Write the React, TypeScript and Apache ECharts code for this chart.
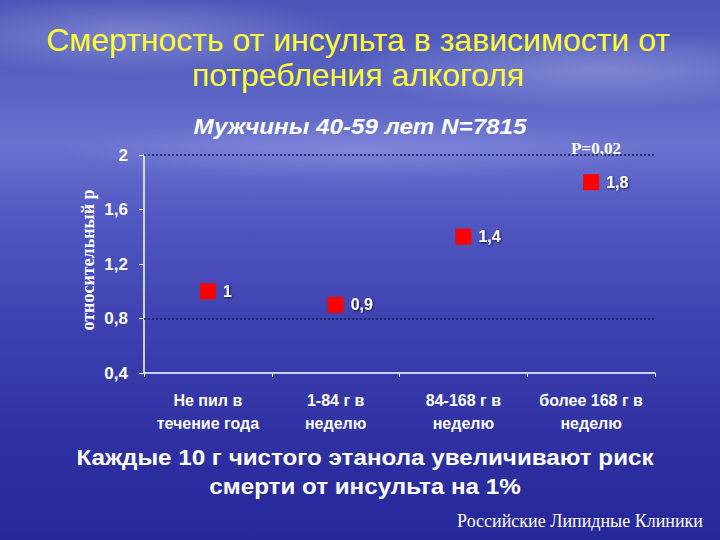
import React, { useEffect, useRef } from "react";
import * as echarts from "echarts";

const categories = ["Не пил в\nтечение года", "1-84 г в\nнеделю", "84-168 г в\nнеделю", "более 168 г в\nнеделю"];
const riskValues = [1, 0.9, 1.4, 1.8];
const refLines = [2, 0.8];
const titleLines = ["Смертность от инсульта в зависимости от", "потребления алкоголя"];
const subtitle = "Мужчины 40-59 лет N=7815";
const yAxisName = "относительный р";
const pValue = "P=0,02";
const footnoteLines = ["Каждые 10 г чистого этанола увеличивают риск", "смерти от инсульта на 1%"];
const credit = "Российские Липидные Клиники";

const fmt = (v: number) => String(Math.round(v * 10) / 10).replace(".", ",");

export default function App() {
  const ref = useRef<HTMLDivElement>(null);
  useEffect(() => {
    if (!ref.current) return;
    const chart = echarts.init(ref.current, null, { renderer: "svg" });
    const white = "#ffffff";
    const sans = "'Liberation Sans', Arial, sans-serif";
    const serif = "'Liberation Serif', 'Times New Roman', serif";
    chart.setOption({
      animation: false,
      backgroundColor: "transparent",
      grid: { left: 144, right: 65, top: 155, bottom: 167, containLabel: false },
      xAxis: {
        type: "category",
        data: categories,
        boundaryGap: true,
        axisLine: { show: true, lineStyle: { color: white, width: 1.5 } },
        axisTick: { show: true, alignWithLabel: false, length: 4, lineStyle: { color: white } },
        axisLabel: {
          interval: 0,
          hideOverlap: false,
          color: white,
          fontWeight: "bold",
          fontSize: 16,
          fontFamily: sans,
          lineHeight: 23,
          margin: 16,
        },
        splitLine: { show: false },
      },
      yAxis: {
        type: "value",
        min: 0.4,
        max: 2,
        interval: 0.4,
        axisLine: { show: true, lineStyle: { color: white, width: 1.5 } },
        axisTick: { show: true, length: 5, lineStyle: { color: white } },
        axisLabel: { color: white, fontWeight: "bold", fontSize: 17, fontFamily: sans, margin: 16, formatter: (v: number) => fmt(v) },
        splitLine: { show: false },
      },
      series: [
        {
          type: "scatter",
          data: riskValues,
          symbol: "rect",
          symbolSize: 16,
          itemStyle: { color: "#ff0000", opacity: 1 },
          label: {
            show: true,
            position: "right",
            distance: 7,
            color: white,
            fontWeight: "bold",
            fontSize: 16,
            fontFamily: sans,
            textShadowColor: "rgba(0,0,40,0.7)",
            textShadowBlur: 2,
            textShadowOffsetX: 1,
            textShadowOffsetY: 1,
            formatter: (p: any) => fmt(p.value),
          },
          markLine: {
            silent: true,
            symbol: "none",
            label: { show: false },
            lineStyle: { color: "#1c1c5c", type: [2, 2], width: 1.5 },
            data: refLines.map((v) => ({ yAxis: v })),
          },
        },
      ],
      graphic: [
        ...titleLines.map((t, i) => ({
          type: "text",
          x: 358,
          y: 40 + i * 35,
          style: {
            text: t,
            fill: "#ffff33",
            font: `32px ${sans}`,
            textAlign: "center",
            textVerticalAlign: "middle",
            shadowColor: "rgba(20,20,50,0.9)",
            shadowOffsetX: 2,
            shadowOffsetY: 2,
            shadowBlur: 1,
          },
        })),
        {
          type: "text",
          x: 360,
          y: 126,
          scaleX: 1.1,
          style: {
            text: subtitle,
            fill: white,
            font: `italic bold 22px ${sans}`,
            textAlign: "center",
            textVerticalAlign: "middle",
            shadowColor: "rgba(20,20,60,0.8)",
            shadowOffsetX: 1,
            shadowOffsetY: 1,
          },
        },
        {
          type: "text",
          x: 88,
          y: 260,
          rotation: Math.PI / 2,
          style: {
            text: yAxisName,
            fill: white,
            font: `bold 18px ${serif}`,
            textAlign: "center",
            textVerticalAlign: "middle",
          },
        },
        {
          type: "text",
          x: 596,
          y: 148,
          style: {
            text: pValue,
            fill: white,
            font: `bold 17px ${serif}`,
            textAlign: "center",
            textVerticalAlign: "middle",
          },
        },
        ...footnoteLines.map((t, i) => ({
          type: "text",
          x: 365,
          y: 457 + i * 29,
          scaleX: 1.1,
          style: {
            text: t,
            fill: white,
            font: `bold 22px ${sans}`,
            textAlign: "center",
            textVerticalAlign: "middle",
            shadowColor: "rgba(10,10,50,0.8)",
            shadowOffsetX: 1,
            shadowOffsetY: 1,
          },
        })),
        {
          type: "text",
          x: 580,
          y: 521,
          style: {
            text: credit,
            fill: white,
            font: `18px ${serif}`,
            textAlign: "center",
            textVerticalAlign: "middle",
          },
        },
      ],
    });
    return () => chart.dispose();
  }, []);
  return (
    <div
      style={{
        position: "fixed",
        left: 0,
        top: 0,
        width: 720,
        height: 540,
        background:
          "radial-gradient(ellipse 220px 40px at 130px 35px, rgba(200,205,240,0.35), rgba(200,205,240,0) 100%)," +
          "radial-gradient(ellipse 260px 40px at 600px 70px, rgba(200,205,240,0.35), rgba(200,205,240,0) 100%)," +
          "radial-gradient(ellipse 300px 30px at 360px 150px, rgba(170,175,235,0.35), rgba(170,175,235,0) 100%)," +
          "linear-gradient(180deg, #4c55b8 0%, #5862c2 15%, #6a72cf 27%, #5158c2 40%, #3e42b0 60%, #3032a3 80%, #26279a 100%)",
      }}
    >
      <div ref={ref} style={{ width: 720, height: 540 }} />
    </div>
  );
}
